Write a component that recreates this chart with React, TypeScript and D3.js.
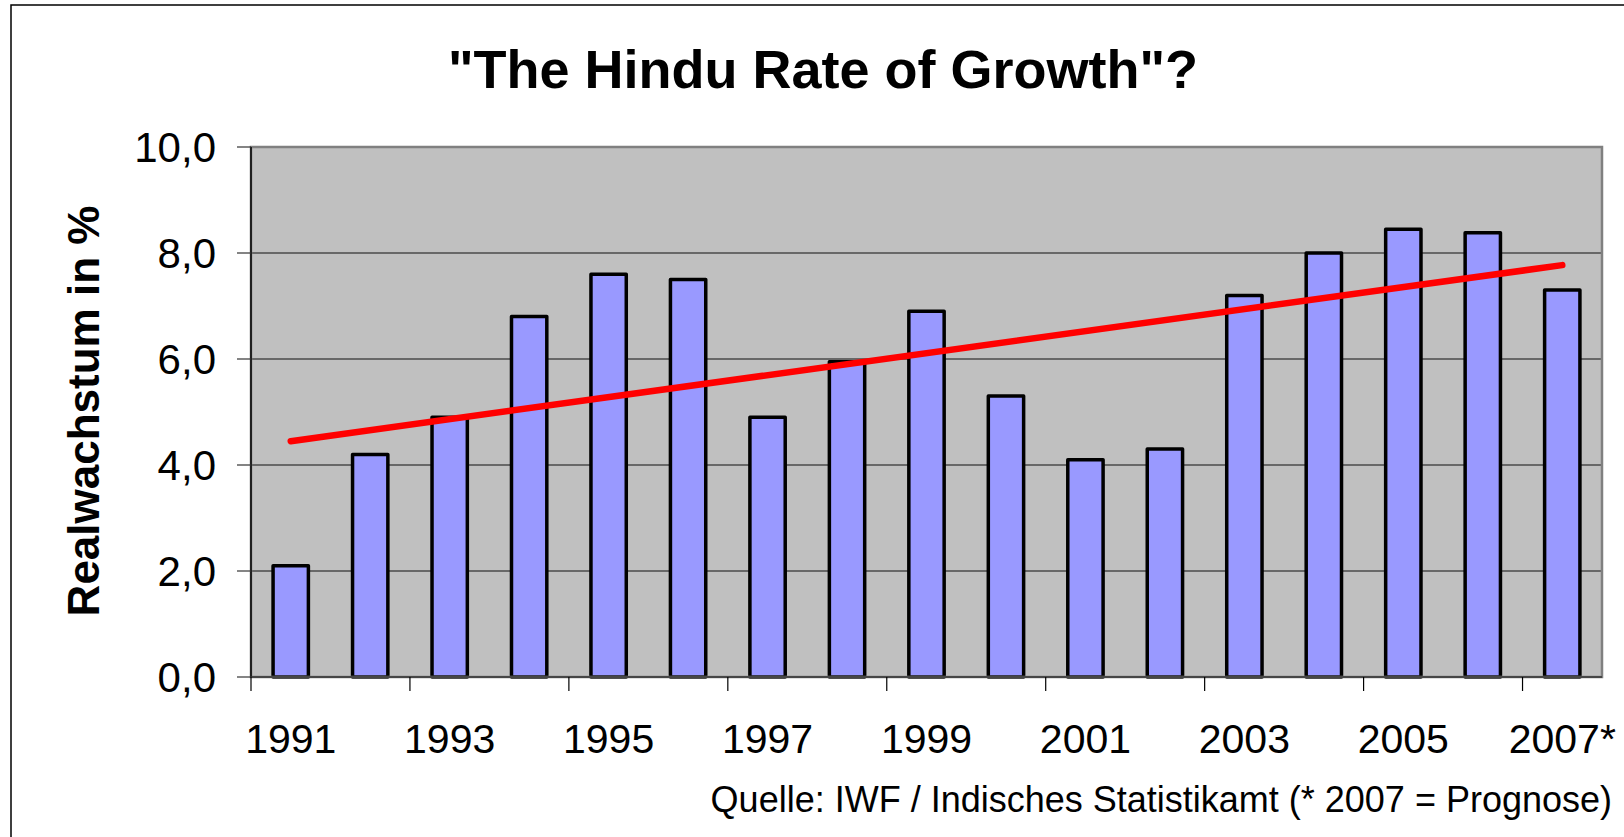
import * as d3 from "d3";
import {useEffect, useRef} from "react";

// data
const years = ["1991", "1992", "1993", "1994", "1995", "1996", "1997", "1998", "1999",
    "2000", "2001", "2002", "2003", "2004", "2005", "2006", "2007"];
const growth = [2.1, 4.2, 4.9, 6.8, 7.6, 7.5, 4.9, 5.95, 6.9, 5.3, 4.1, 4.3, 7.2, 8.0, 8.45, 8.38, 7.3];
const labelYears = ["1991", "1993", "1995", "1997", "1999", "2001", "2003", "2005", "2007"];
const labelTexts = ["1991", "1993", "1995", "1997", "1999", "2001", "2003", "2005", "2007*"];
const yTicks = [0, 2, 4, 6, 8, 10];
const yTickLabels = ["0,0", "2,0", "4,0", "6,0", "8,0", "10,0"];

const W = 1624, H = 837;
const FONT = "'Liberation Sans', Arial, sans-serif";

const App = () => {
    const ref = useRef<SVGSVGElement>(null);

    useEffect(() => {
        const svg = d3.select(ref.current);
        svg.selectAll("*").remove();

        let plot = {left: 251, right: 1602, top: 147, bottom: 677};

        let x = d3.scaleBand()
            .domain(years)
            .range([plot.left, plot.right])
            .paddingInner(0.5556)
            .paddingOuter(0.2778);
        let step = x.step();

        let y = d3.scaleLinear()
            .domain([0, 10])
            .range([plot.bottom, plot.top]);

        // outer chart frame (runs off the right/bottom edge)
        svg.append("rect")
            .attr("x", 11).attr("y", 5)
            .attr("width", W + 20).attr("height", H + 20)
            .attr("fill", "white")
            .attr("stroke", "#000").attr("stroke-width", 1.5);

        // plot area
        svg.append("rect")
            .attr("x", plot.left).attr("y", plot.top)
            .attr("width", plot.right - plot.left).attr("height", plot.bottom - plot.top)
            .attr("fill", "#C0C0C0");

        // gridlines
        svg.append("g")
            .selectAll("line")
            .data(yTicks.filter(d => d > 0 && d < 10))
            .enter().append("line")
            .attr("x1", plot.left).attr("x2", plot.right)
            .attr("y1", d => y(d)).attr("y2", d => y(d))
            .attr("stroke", "#111").attr("stroke-width", 1.2);

        // bars
        svg.append("g")
            .selectAll("rect")
            .data(growth)
            .enter().append("rect")
            .attr("x", (d, i) => x(years[i]))
            .attr("y", d => y(d))
            .attr("width", x.bandwidth())
            .attr("height", d => y(0) - y(d))
            .attr("fill", "#9999FF")
            .attr("stroke", "#000")
            .attr("stroke-width", 3.5)
            .attr("stroke-linejoin", "round");

        // linear trend line (least squares over the bars)
        let idx = growth.map((d, i) => i);
        let mx = d3.mean(idx), my = d3.mean(growth);
        let slope = d3.sum(growth, (d, i) => (i - mx) * (d - my)) / d3.sum(idx, i => (i - mx) * (i - mx));
        let icpt = my - slope * mx;
        let trend = [0, growth.length - 1].map(i => [x(years[i]) + x.bandwidth() / 2, y(icpt + slope * i)]);
        svg.append("path")
            .attr("d", d3.line()(trend))
            .attr("stroke", "#FF0000")
            .attr("stroke-width", 6.5)
            .attr("stroke-linecap", "round")
            .attr("fill", "none");

        // plot border
        svg.append("rect")
            .attr("x", plot.left).attr("y", plot.top)
            .attr("width", plot.right - plot.left).attr("height", plot.bottom - plot.top)
            .attr("fill", "none")
            .attr("stroke", "#808080").attr("stroke-width", 2.5);

        // y axis
        svg.append("line")
            .attr("x1", plot.left).attr("x2", plot.left)
            .attr("y1", plot.top).attr("y2", plot.bottom)
            .attr("stroke", "#000").attr("stroke-width", 1.5);
        svg.append("g")
            .selectAll("line")
            .data(yTicks)
            .enter().append("line")
            .attr("x1", plot.left - 14).attr("x2", plot.left)
            .attr("y1", d => y(d)).attr("y2", d => y(d))
            .attr("stroke", "#333").attr("stroke-width", 1.2);
        svg.append("g")
            .selectAll("text")
            .data(yTicks)
            .enter().append("text")
            .attr("x", 216)
            .attr("y", d => y(d))
            .attr("dy", "0.36em")
            .attr("text-anchor", "end")
            .attr("font-family", FONT)
            .attr("font-size", 42)
            .text((d, i) => yTickLabels[i]);

        // x axis
        svg.append("line")
            .attr("x1", plot.left).attr("x2", plot.right)
            .attr("y1", plot.bottom).attr("y2", plot.bottom)
            .attr("stroke", "#333").attr("stroke-width", 1.5);
        svg.append("g")
            .selectAll("line")
            .data(labelYears)
            .enter().append("line")
            .attr("x1", d => x(d) - x.paddingOuter() * step)
            .attr("x2", d => x(d) - x.paddingOuter() * step)
            .attr("y1", plot.bottom).attr("y2", plot.bottom + 14)
            .attr("stroke", "#000").attr("stroke-width", 1.2);
        svg.append("g")
            .selectAll("text")
            .data(labelYears)
            .enter().append("text")
            .attr("x", d => x(d) + x.bandwidth() / 2)
            .attr("y", 753)
            .attr("text-anchor", "middle")
            .attr("font-family", FONT)
            .attr("font-size", 41)
            .text((d, i) => labelTexts[i]);

        // title
        svg.append("text")
            .attr("x", 823).attr("y", 88)
            .attr("text-anchor", "middle")
            .attr("font-family", FONT)
            .attr("font-weight", "bold")
            .attr("font-size", 54)
            .text("\"The Hindu Rate of Growth\"?");

        // y axis title
        svg.append("text")
            .attr("transform", "translate(99,411) rotate(-90)")
            .attr("text-anchor", "middle")
            .attr("font-family", FONT)
            .attr("font-weight", "bold")
            .attr("font-size", 44)
            .text("Realwachstum in %");

        // source note
        svg.append("text")
            .attr("x", 1612).attr("y", 812)
            .attr("text-anchor", "end")
            .attr("font-family", FONT)
            .attr("font-size", 36)
            .text("Quelle: IWF / Indisches Statistikamt (* 2007 = Prognose)");
    }, []);

    return (
        <svg ref={ref} width={W} height={H}
             style={{position: "absolute", left: 0, top: 0, background: "white"}}/>
    );
}

export default App
